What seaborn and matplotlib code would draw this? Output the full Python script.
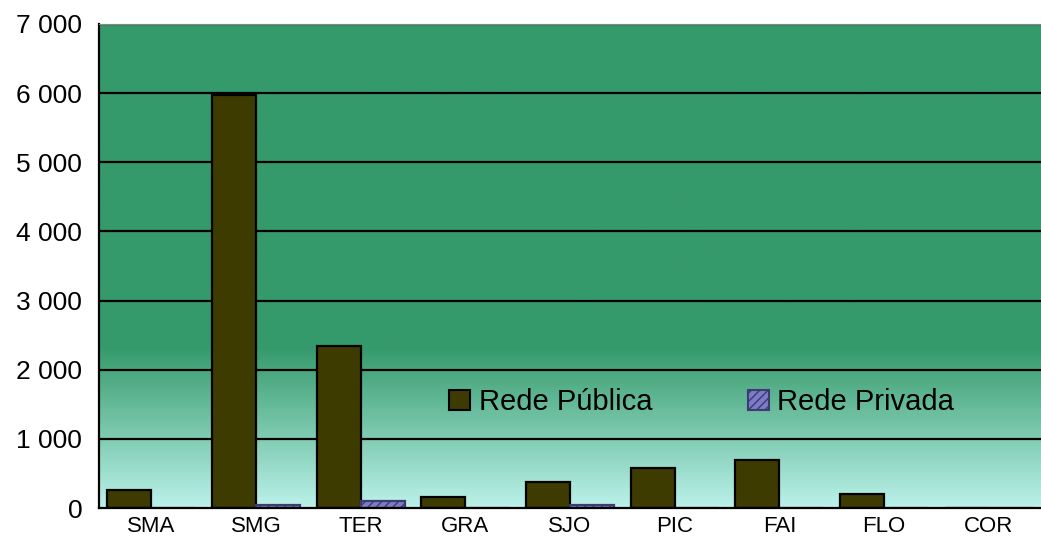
import matplotlib.pyplot as plt
import matplotlib.colors as mcolors
from matplotlib.patches import Patch
import numpy as np
import pandas as pd
import seaborn as sns

categories = ["SMA", "SMG", "TER", "GRA", "SJO", "PIC", "FAI", "FLO", "COR"]
rede_publica = [260, 5970, 2345, 160, 375, 585, 690, 200, 0]
rede_privada = [0, 40, 95, 0, 40, 0, 0, 0, 0]
y_ticks = [0, 1000, 2000, 3000, 4000, 5000, 6000, 7000]

df = pd.DataFrame({
    "Concelho": categories * 2,
    "Valor": rede_publica + rede_privada,
    "Rede": ["Rede Pública"] * len(categories) + ["Rede Privada"] * len(categories),
})

pub_color = "#3d3b00"
priv_color = "#7b7bc8"

sns.set_style("white")
plt.rcParams["font.family"] = ["Liberation Sans", "DejaVu Sans"]
plt.rcParams["text.color"] = "black"
plt.rcParams["xtick.color"] = "black"
plt.rcParams["ytick.color"] = "black"

fig = plt.figure(figsize=(10.41, 5.58), dpi=100)
ax = fig.add_axes([0.0951, 0.0896, 0.9049, 0.8674])

# Gradient background: light cyan at the bottom fading into green.
cmap = mcolors.LinearSegmentedColormap.from_list(
    "bg", [(0.0, "#bbf2ea"), (0.33, "#359a6b"), (1.0, "#359a6b")]
)
grad = np.linspace(0, 1, 256).reshape(-1, 1)
ax.imshow(grad, extent=[-0.5, 8.5, 0, 7000], origin="lower", aspect="auto",
          cmap=cmap, zorder=-2)

ax.hlines(y_ticks[1:], -0.5, 8.5, colors="black", linewidth=1.6, zorder=0)

sns.barplot(
    data=df, x="Concelho", y="Valor", hue="Rede", order=categories,
    hue_order=["Rede Pública", "Rede Privada"],
    palette={"Rede Pública": pub_color, "Rede Privada": priv_color},
    width=0.84, edgecolor="black", linewidth=1.6, saturation=1,
    ax=ax, zorder=2, legend=False,
)

for patch in ax.containers[1]:
    patch.set_hatch("////")
    patch.set_edgecolor("#3d3b70")

ax.set_xlim(-0.5, 8.5)
ax.set_ylim(0, 7000)
ax.set_yticks(y_ticks)
ax.set_yticklabels([f"{v:,}".replace(",", " ") for v in y_ticks], fontsize=19)
ax.set_xticks(range(len(categories)))
ax.set_xticklabels(categories, fontsize=16)
ax.set_xticks(np.arange(0.5, 8.5, 1), minor=True)
ax.tick_params(axis="x", which="major", length=0, pad=6)
ax.tick_params(axis="x", which="minor", length=7, width=1.5, direction="out")
ax.tick_params(axis="y", length=8, width=1.5, direction="out", pad=4)
ax.set_xlabel("")
ax.set_ylabel("")

for side in ["left", "bottom"]:
    ax.spines[side].set_color("black")
    ax.spines[side].set_linewidth(1.6)
ax.spines["top"].set_color("#888888")
ax.spines["right"].set_visible(False)

handles = [
    Patch(facecolor=pub_color, edgecolor="black", linewidth=1.5, label="Rede Pública"),
    Patch(facecolor=priv_color, edgecolor="#3d3b70", hatch="////", linewidth=1.5,
          label="Rede Privada"),
]
ax.legend(handles=handles, loc="center", bbox_to_anchor=(0.64, 0.218), ncol=2,
          frameon=False, fontsize=21, handlelength=0.7, handleheight=0.7,
          handletextpad=0.3, columnspacing=3.3)

fig.savefig("out.png", dpi=100)
